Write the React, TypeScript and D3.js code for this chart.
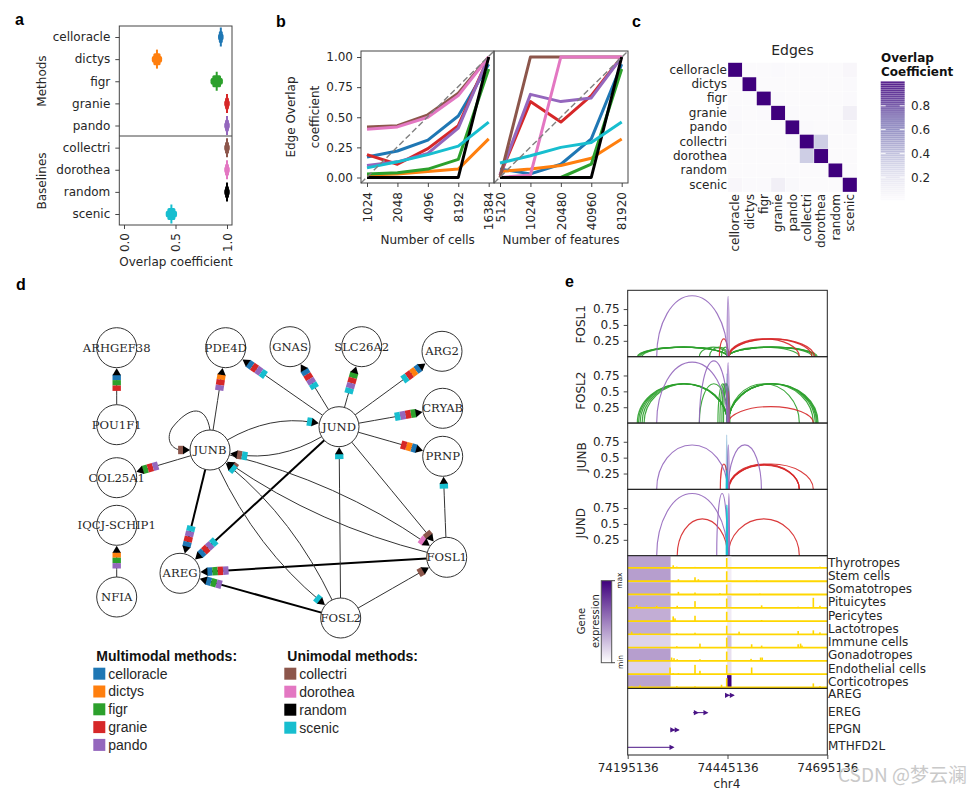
import { useEffect, useRef } from "react";
import * as d3 from "d3";

const SANS = "DejaVu Sans";
const TEXT = "#262626";

// Méthodes
const methods = ["celloracle", "dictys", "figr", "granie", "pando", "collectri", "dorothea", "random", "scenic"];
const methodColors = ["#1f77b4", "#ff7f0e", "#2ca02c", "#d62728", "#9467bd", "#8c564b", "#e377c2", "#000000", "#17becf"];
const colorOf = d3.scaleOrdinal<string, string>().domain(methods).range(methodColors);

// a : coefficient de recouvrement
const overlapValues = [0.94, 0.32, 0.9, 1, 1, 1, 1, 1, 0.46];
const overlapSpread = [0.027, 0.05, 0.06, 0.027, 0.027, 0.027, 0.027, 0.027, 0.055];

// b : robustesse
const cellCounts = [1024, 2048, 4096, 8192, 16384];
const featureCounts = [5120, 10240, 20480, 40960, 81920];
const yTicksB = [0, 0.25, 0.5, 0.75, 1];
const cellSeries: Record<string, number[]> = {
  celloracle: [0.17, 0.22, 0.31, 0.51, 0.94],
  dictys: [0.02, 0.03, 0.05, 0.07, 0.32],
  figr: [0.03, 0.04, 0.07, 0.15, 0.9],
  granie: [0.19, 0.11, 0.24, 0.43, 1],
  pando: [0.1, 0.13, 0.2, 0.41, 1],
  collectri: [0.42, 0.43, 0.52, 0.7, 1],
  dorothea: [0.4, 0.42, 0.5, 0.68, 1],
  random: [0, 0, 0, 0, 1],
  scenic: [0.08, 0.13, 0.19, 0.26, 0.46],
};
const featureSeries: Record<string, number[]> = {
  celloracle: [0.07, 0.03, 0.11, 0.32, 0.94],
  dictys: [0.05, 0.07, 0.1, 0.16, 0.32],
  figr: [0, 0, 0, 0.11, 0.9],
  granie: [0.02, 0.63, 0.46, 0.68, 1],
  pando: [0.02, 0.69, 0.63, 0.66, 1],
  collectri: [0, 1, 1, 1, 1],
  dorothea: [0, 0.02, 1, 1, 1],
  random: [0, 0, 0, 0, 1],
  scenic: [0.12, 0.18, 0.25, 0.29, 0.46],
};

// c : matrice de recouvrement
const edgeOverlap = [
  [1, 0.01, 0.01, 0.02, 0.01, 0.01, 0.01, 0.01, 0.04],
  [0.01, 1, 0.01, 0.01, 0.01, 0.01, 0.01, 0.01, 0.02],
  [0.01, 0.01, 1, 0.02, 0.01, 0.01, 0.01, 0.01, 0.02],
  [0.02, 0.01, 0.02, 1, 0.02, 0.01, 0.01, 0.01, 0.1],
  [0.03, 0.01, 0.01, 0.01, 1, 0.02, 0.01, 0.01, 0.03],
  [0.01, 0.01, 0.01, 0.01, 0.02, 1, 0.3, 0.01, 0.01],
  [0.01, 0.01, 0.01, 0.01, 0.01, 0.3, 1, 0.01, 0.01],
  [0.01, 0.01, 0.01, 0.01, 0.01, 0.01, 0.01, 1, 0.01],
  [0.04, 0.02, 0.02, 0.1, 0.03, 0.01, 0.01, 0.01, 1],
];
const colorbarTicks = [0.2, 0.4, 0.6, 0.8];

// d : réseau
const nodeLayout: Record<string, [number, number]> = {
  "ARHGEF38": [116.7, 347.7],
  "POU1F1": [116.7, 424.7],
  "COL25A1": [116.7, 477.7],
  "IQCJ-SCHIP1": [116.7, 525.3],
  "NFIA": [116.7, 597],
  "PDE4D": [225.7, 347.7],
  "GNAS": [290, 346.7],
  "SLC26A2": [361.7, 346.7],
  "ARG2": [442, 351.3],
  "CRYAB": [442.7, 408.3],
  "PRNP": [442.7, 456.3],
  "JUND": [339, 426.7],
  "JUNB": [210, 450],
  "AREG": [180, 573.3],
  "FOSL1": [446.7, 557.3],
  "FOSL2": [340.7, 618],
};
type NetEdge = { from: string; to: string; by: string[]; thick?: boolean; curve?: number };
const netEdges: NetEdge[] = [
  { from: "POU1F1", to: "ARHGEF38", by: ["celloracle", "figr", "granie"] },
  { from: "NFIA", to: "IQCJ-SCHIP1", by: ["dictys", "figr", "pando"] },
  { from: "JUNB", to: "PDE4D", by: ["dictys", "granie", "pando"] },
  { from: "JUND", to: "PDE4D", by: ["celloracle", "granie", "pando", "scenic"] },
  { from: "JUND", to: "GNAS", by: ["celloracle", "granie", "pando", "scenic"] },
  { from: "JUND", to: "SLC26A2", by: ["figr", "granie", "pando", "scenic"] },
  { from: "JUND", to: "ARG2", by: ["celloracle", "dictys", "granie", "scenic"] },
  { from: "JUND", to: "CRYAB", by: ["figr", "granie", "pando", "scenic"] },
  { from: "JUND", to: "PRNP", by: ["celloracle", "dictys", "granie"] },
  { from: "JUNB", to: "COL25A1", by: ["figr", "granie", "pando"] },
  { from: "JUNB", to: "AREG", by: ["celloracle", "granie", "pando", "scenic"], thick: true },
  { from: "JUND", to: "AREG", by: ["celloracle", "granie", "pando", "scenic"], thick: true },
  { from: "FOSL1", to: "AREG", by: ["celloracle", "figr", "granie", "pando"], thick: true },
  { from: "FOSL2", to: "AREG", by: ["celloracle", "figr", "pando"], thick: true },
  { from: "JUNB", to: "JUND", by: ["scenic"], curve: 0.18 },
  { from: "JUND", to: "JUNB", by: ["collectri", "scenic"], curve: 0.18 },
  { from: "JUNB", to: "FOSL1", by: ["dorothea"], curve: 0.09 },
  { from: "FOSL1", to: "JUNB", by: ["collectri"], curve: 0.09 },
  { from: "JUNB", to: "FOSL2", by: ["scenic"], curve: -0.11 },
  { from: "FOSL2", to: "JUNB", by: ["scenic"], curve: -0.11 },
  { from: "JUND", to: "FOSL1", by: ["collectri"] },
  { from: "FOSL2", to: "JUND", by: ["scenic"] },
  { from: "FOSL2", to: "FOSL1", by: ["collectri"] },
  { from: "FOSL1", to: "PRNP", by: ["scenic"] },
];
const multimodal = ["celloracle", "dictys", "figr", "granie", "pando"];
const unimodal = ["collectri", "dorothea", "random", "scenic"];

// e : arcs [début kb, fin kb, hauteur, méthode, opacité]
type Arc = [number, number, number, string, number?];
const arcTracks: { name: string; arcs: Arc[] }[] = [
  {
    name: "FOSL1",
    arcs: [
      [24, 250, 0.15, "figr"], [26, 250, 0.15, "figr"], [29, 250, 0.15, "figr"], [32, 250, 0.15, "figr"], [36, 250, 0.15, "figr"],
      [179.5, 250, 0.15, "figr"], [205, 252, 0.15, "figr"], [235, 254, 0.15, "figr"],
      [252, 430, 0.15, "figr"], [252, 462, 0.15, "figr"], [252, 468, 0.15, "figr"], [252, 472, 0.15, "figr"], [252, 475, 0.15, "figr"],
      [229.5, 252, 0.28, "granie"], [252, 430, 0.28, "granie"], [252, 462, 0.28, "granie"], [254, 468, 0.28, "granie"],
      [72.6, 250, 0.96, "pando"], [249, 254, 0.96, "pando"],
    ],
  },
  {
    name: "FOSL2",
    arcs: [
      [24, 250, 0.62, "figr"], [27, 250, 0.62, "figr"], [31, 250, 0.62, "figr"], [36, 250, 0.62, "figr"], [41, 250, 0.62, "figr"],
      [179.5, 252, 0.62, "figr"], [226, 250, 0.62, "figr"], [231, 252, 0.62, "figr"], [236, 254, 0.62, "figr"], [240, 256, 0.62, "figr"],
      [252, 430, 0.62, "figr"], [252, 465, 0.62, "figr"], [252, 470, 0.62, "figr"], [252, 473, 0.62, "figr"], [252, 475, 0.62, "figr"], [252, 477, 0.62, "figr"],
      [250, 254, 0.5, "granie"], [252, 465, 0.26, "granie"],
      [247.5, 249.5, 0.78, "celloracle", 0.4],
      [72.6, 250, 0.96, "pando"], [179.5, 252, 0.98, "pando"], [249, 254, 0.96, "pando"],
    ],
  },
  {
    name: "JUNB",
    arcs: [
      [232, 250, 0.4, "granie"], [252, 430, 0.4, "granie"], [252, 465, 0.4, "granie"], [253, 430, 0.39, "granie"], [254, 430, 0.38, "granie"],
      [72.6, 250, 0.7, "pando"], [250, 254, 0.7, "pando"], [252, 335, 0.7, "pando"],
      [247, 249, 0.86, "celloracle", 0.4],
      [247, 249, 0.3, "scenic"], [247.5, 249.5, 0.22, "scenic"],
    ],
  },
  {
    name: "JUND",
    arcs: [
      [124, 250, 0.58, "granie"], [252, 430, 0.58, "granie"],
      [72.6, 250, 0.98, "pando"], [223, 250, 0.98, "pando"], [252, 255, 0.98, "pando"],
      [247, 250, 0.8, "scenic"], [247.4, 249.6, 0.8, "scenic"],
    ],
  },
];
const arcTicks = [0.25, 0.5, 0.75];

// e : expression et accessibilité
const cellTypes = ["Thyrotropes", "Stem cells", "Somatotropes", "Pituicytes", "Pericytes", "Lactotropes", "Immune cells", "Gonadotropes", "Endothelial cells", "Corticotropes"];
const upstreamExpression = [0.36, 0.38, 0.35, 0.33, 0.32, 0.32, 0.17, 0.38, 0.17, 0.36];
const tssExpression = [0.06, 0.07, 0.08, 0.16, 0.08, 0.08, 0.24, 0.12, 0.12, 1];
const accessPeaks: [number, number][][] = [
  [[114, 0.2], [123, 0.1], [168.6, 0.08], [248, 0.75], [331, 0.07], [481.6, 0.1], [10, 0.07], [40, 0.06], [80, 0.06]],
  [[127, 0.15], [168.6, 0.3], [177, 0.15], [248, 0.75], [114, 0.05], [323, 0.07]],
  [[127, 0.2], [168.6, 0.15], [231, 0.1], [248, 0.75], [331, 0.07]],
  [[22.5, 0.2], [31, 0.08], [72.6, 0.15], [124, 0.15], [168.6, 0.5], [248, 0.7], [335.5, 0.18], [427, 0.08], [465, 0.75], [481.6, 0.15]],
  [[114, 0.35], [118.5, 0.2], [168.6, 0.4], [248, 0.7], [335.5, 0.08]],
  [[10, 0.2], [31, 0.08], [123, 0.08], [168.6, 0.12], [248, 0.65], [279, 0.2], [427, 0.25], [465, 0.3], [481.6, 0.15]],
  [[123, 0.1], [181, 0.3], [248, 0.75], [310.5, 0.25], [335.5, 0.15], [427, 0.25], [433, 0.3], [436.5, 0.15]],
  [[110, 0.25], [116, 0.2], [124, 0.12], [181, 0.12], [248, 0.7], [309, 0.15], [333, 0.25], [337, 0.25]],
  [[106, 0.5], [114, 0.08], [127, 0.08], [168.6, 0.7], [181, 0.25], [248, 0.7], [310.5, 0.5]],
  [[10, 0.08], [31, 0.15], [123, 0.1], [168.6, 0.08], [235, 0.2], [248, 0.7], [465, 0.3], [481.6, 0.1]],
];
const upstreamEndKb = 107.5;
const tssStartKb = 249;
const tssEndKb = 260;

// e : gènes [début kb, fin kb, têtes de flèche kb]
const geneNames = ["AREG", "EREG", "EPGN", "MTHFD2L"];
const geneStart = [243.7, 164, 107, 0];
const geneEnd = [266, 199.5, 127.7, 114];
const geneHeads = [[250, 262], [172, 196], [113, 124], [111]];
const regionStart = 74195136;
const regionTicks = [74195136, 74445136, 74695136];

export default function App() {
  const svgRef = useRef<SVGSVGElement>(null);

  useEffect(() => {
    if (!svgRef.current) return;
    const svg = d3.select(svgRef.current);
    svg.selectAll("*").remove();

    // Texte générique
    const label = (x: number, y: number, s: string, size = 12, opts: any = {}) => {
      const t = svg
        .append("text")
        .attr("x", x)
        .attr("y", y)
        .attr("font-family", opts.family || SANS)
        .attr("font-size", size)
        .attr("font-weight", opts.weight || "normal")
        .attr("fill", opts.fill || TEXT)
        .attr("text-anchor", opts.anchor || "start")
        .text(s);
      if (opts.rotate) t.attr("transform", `rotate(-90,${x},${y})`).attr("text-anchor", "middle");
      return t;
    };
    const styleAxis = (g: any, size = 12) => {
      g.select(".domain").remove();
      g.selectAll("line").attr("stroke", "#333").attr("stroke-width", 0.9);
      g.selectAll("text").attr("font-family", SANS).attr("font-size", size).attr("fill", TEXT);
    };
    const rotateTicks = (g: any, offset: number) => {
      g.selectAll("text")
        .attr("transform", "rotate(-90)")
        .attr("text-anchor", "end")
        .attr("x", -offset)
        .attr("y", 0)
        .attr("dy", "0.35em");
    };
    const frame = (x0: number, y0: number, x1: number, y1: number, stroke = "#444") => {
      svg.append("rect").attr("x", x0).attr("y", y0).attr("width", x1 - x0).attr("height", y1 - y0)
        .attr("fill", "none").attr("stroke", stroke).attr("stroke-width", 1);
    };

    // Lettres de panneaux
    const panelLetters: [string, number, number][] = [["a", 15, 25], ["b", 276, 27], ["c", 632, 27], ["d", 16, 290], ["e", 565, 287]];
    panelLetters.forEach(([s, x, y]) => label(x, y, s, 16, { family: "Liberation Sans", weight: "bold", fill: "#000" }));

    // --- Panneau a ---
    const xA = d3.scaleLinear().domain([0, 1]).range([124, 227]);
    const yA = d3.scalePoint<string>().domain(methods).range([37, 214]);
    const gA = svg.append("g");
    methods.forEach((m, i) => {
      const c = colorOf(m);
      const cx = xA(overlapValues[i]);
      const cy = yA(m)!;
      const w = xA(overlapSpread[i]) - xA(0);
      gA.append("line").attr("x1", cx).attr("x2", cx).attr("y1", cy - 9.5).attr("y2", cy + 9.5).attr("stroke", c).attr("stroke-width", 2);
      gA.append("rect").attr("x", cx - w * 0.7).attr("y", cy - 6).attr("width", w * 1.4).attr("height", 12).attr("rx", 1.5).attr("fill", c);
      gA.append("rect").attr("x", cx - w).attr("y", cy - 3.5).attr("width", w * 2).attr("height", 7).attr("rx", 2.5).attr("fill", c);
    });
    frame(119.3, 26, 232, 225);
    svg.append("line").attr("x1", 119.3).attr("x2", 232).attr("y1", 136).attr("y2", 136).attr("stroke", "#444").attr("stroke-width", 1);
    svg.append("g").attr("transform", "translate(119.3,0)")
      .call(d3.axisLeft(yA).tickSize(4).tickPadding(5) as any).call(styleAxis);
    const axA = svg.append("g").attr("transform", "translate(0,225)")
      .call(d3.axisBottom(xA).tickValues([0, 0.5, 1]).tickFormat(d3.format(".1f")).tickSize(4) as any);
    styleAxis(axA);
    rotateTicks(axA, 8);
    label(176, 266, "Overlap coefficient", 12, { anchor: "middle" });
    label(46, 81, "Methods", 12, { rotate: true });
    label(46, 181, "Baselines", 12, { rotate: true });

    // --- Panneau b ---
    const yB = d3.scaleLinear().domain([0, 1]).range([177.5, 57]);
    const drawRobust = (x0: number, x1: number, a: number, b: number, ticks: number[], series: Record<string, number[]>) => {
      const x = d3.scaleLog().base(2).domain([ticks[0], ticks[4]]).range([a, b]);
      const line = d3.line<number>().x((_, i) => x(ticks[i])).y((d) => yB(d));
      methods.forEach((m) => {
        svg.append("path").attr("d", line(series[m])!).attr("fill", "none").attr("stroke", colorOf(m))
          .attr("stroke-width", 3).attr("stroke-linejoin", "round");
      });
      svg.append("line").attr("x1", x0).attr("y1", 183).attr("x2", x1).attr("y2", 51)
        .attr("stroke", "#808080").attr("stroke-width", 1.4).attr("stroke-dasharray", "6,3");
      frame(x0, 51, x1, 183);
      const ax = svg.append("g").attr("transform", "translate(0,183)")
        .call(d3.axisBottom(x).tickValues(ticks).tickFormat(d3.format("d") as any).tickSize(4) as any);
      styleAxis(ax);
      rotateTicks(ax, 9);
    };
    drawRobust(361, 494, 367, 488.7, cellCounts, cellSeries);
    drawRobust(494, 628, 500, 621.7, featureCounts, featureSeries);
    svg.append("g").attr("transform", "translate(361,0)")
      .call(d3.axisLeft(yB).tickValues(yTicksB).tickFormat(d3.format(".2f")).tickSize(4).tickPadding(4) as any).call(styleAxis);
    label(295, 117, "Edge Overlap", 12, { rotate: true });
    label(319, 117, "coefficient", 12, { rotate: true });
    label(427.7, 244, "Number of cells", 12, { anchor: "middle" });
    label(561, 244, "Number of features", 12, { anchor: "middle" });

    // --- Panneau c ---
    const xC = d3.scaleBand<string>().domain(methods).range([728, 857]);
    const yC = d3.scaleBand<string>().domain(methods).range([62.7, 192]);
    const purples = d3.scaleSequential(d3.interpolatePurples).domain([0, 1]);
    edgeOverlap.forEach((row, i) => {
      row.forEach((v, j) => {
        svg.append("rect").attr("x", xC(methods[j])!).attr("y", yC(methods[i])!)
          .attr("width", xC.bandwidth()).attr("height", yC.bandwidth())
          .attr("fill", purples(v)).attr("stroke", "#fff").attr("stroke-width", 0.3);
      });
    });
    label(792.5, 55, "Edges", 14, { anchor: "middle" });
    const axCy = svg.append("g").attr("transform", "translate(728,0)").call(d3.axisLeft(yC).tickSize(0).tickPadding(1) as any);
    styleAxis(axCy);
    const axCx = svg.append("g").attr("transform", "translate(0,192)").call(d3.axisBottom(xC).tickSize(0) as any);
    styleAxis(axCx);
    rotateTicks(axCx, 2);

    const cbY = d3.scaleLinear().domain([0, 1]).range([201, 82]);
    d3.range(0.005, 1, 1 / 60).forEach((v) => {
      svg.append("rect").attr("x", 880.7).attr("width", 24).attr("y", cbY(v + 1 / 60)).attr("height", 1.75)
        .attr("fill", purples(v)).attr("opacity", 0.88);
    });
    colorbarTicks.forEach((t) => {
      const y = cbY(t);
      [[880.7, 885.7], [899.7, 904.7]].forEach(([a, b]) => {
        svg.append("line").attr("x1", a).attr("x2", b).attr("y1", y).attr("y2", y).attr("stroke", "#fff").attr("stroke-width", 0.9);
      });
      label(911, y + 4.5, String(t), 12);
    });
    label(881, 62, "Overlap", 12, { weight: "bold", fill: "#111" });
    label(881, 75.5, "Coefficient", 12, { weight: "bold", fill: "#111" });

    // --- Panneau d ---
    const R = 20;
    const gE = svg.append("g");
    const stripesAt = (tipX: number, tipY: number, ux: number, uy: number, by: string[]) => {
      const px = -uy;
      const py = ux;
      const quad = (s0: number, s1: number, hw: number) =>
        `M${tipX + ux * s0 + px * hw},${tipY + uy * s0 + py * hw}L${tipX + ux * s1 + px * hw},${tipY + uy * s1 + py * hw}L${tipX + ux * s1 - px * hw},${tipY + uy * s1 - py * hw}L${tipX + ux * s0 - px * hw},${tipY + uy * s0 - py * hw}Z`;
      by.forEach((m, i) => {
        gE.append("path").attr("d", quad(6.5 + i * 5.4, 6.5 + (i + 1) * 5.4, 4.2)).attr("fill", colorOf(m));
      });
      gE.append("path")
        .attr("d", `M${tipX},${tipY}L${tipX + ux * 7 + px * 4.2},${tipY + uy * 7 + py * 4.2}L${tipX + ux * 7 - px * 4.2},${tipY + uy * 7 - py * 4.2}Z`)
        .attr("fill", "#000");
    };
    const gLines = gE.append("g");
    netEdges.forEach((e) => {
      const [x0, y0] = nodeLayout[e.from];
      const [x1, y1] = nodeLayout[e.to];
      const d = Math.hypot(x1 - x0, y1 - y0);
      const k = e.curve || 0;
      const cx = (x0 + x1) / 2 + ((y1 - y0) / d) * k * d;
      const cy = (y0 + y1) / 2 - ((x1 - x0) / d) * k * d;
      const d0 = Math.hypot(cx - x0, cy - y0);
      const d1 = Math.hypot(cx - x1, cy - y1);
      const sx = x0 + ((cx - x0) / d0) * R;
      const sy = y0 + ((cy - y0) / d0) * R;
      const ux = (cx - x1) / d1;
      const uy = (cy - y1) / d1;
      const tx = x1 + ux * (R + 0.5);
      const ty = y1 + uy * (R + 0.5);
      const path = d3.path();
      path.moveTo(sx, sy);
      path.quadraticCurveTo(cx, cy, tx + ux * 6, ty + uy * 6);
      gLines.append("path").attr("d", path.toString()).attr("fill", "none")
        .attr("stroke", e.thick ? "#000" : "#333").attr("stroke-width", e.thick ? 2 : 1);
      stripesAt(tx, ty, ux, uy, e.by);
    });
    // Boucle de JUNB
    const loop = d3.path();
    const [jx, jy] = nodeLayout["JUNB"];
    loop.moveTo(jx, jy - 20);
    loop.bezierCurveTo(jx - 4, jy - 45, jx - 20, jy - 45, jx - 38, jy - 22);
    loop.bezierCurveTo(jx - 45, jy - 10, jx - 38, jy, jx - 28, jy);
    gLines.append("path").attr("d", loop.toString()).attr("fill", "none").attr("stroke", "#333").attr("stroke-width", 1);
    stripesAt(jx - 20, jy, -1, 0, ["collectri"]);

    Object.entries(nodeLayout).forEach(([name, [x, y]]) => {
      svg.append("circle").attr("cx", x).attr("cy", y).attr("r", R).attr("fill", "#fff").attr("stroke", "#333").attr("stroke-width", 1);
    });
    Object.entries(nodeLayout).forEach(([name, [x, y]]) => {
      label(x, y + 4, name, 11.6, { family: "DejaVu Serif", anchor: "middle" });
    });

    // Légende
    const legendColumn = (title: string, items: string[], x: number, step: number) => {
      label(x + 3, 661, title, 14, { family: "Liberation Sans", weight: "bold", fill: "#111" });
      items.forEach((m, i) => {
        svg.append("rect").attr("x", x).attr("y", 667.7 + i * step).attr("width", 12).attr("height", 12).attr("fill", colorOf(m));
        label(x + 15, 678.5 + i * step, m, 14, { family: "Liberation Sans" });
      });
    };
    legendColumn("Multimodal methods:", multimodal, 93.3, 17.8);
    legendColumn("Unimodal methods:", unimodal, 284.3, 18);

    // --- Panneau e ---
    const xE = d3.scaleLinear().domain([regionStart, regionStart + 500000]).range([627.7, 827.3]);
    const kb = (v: number) => xE(regionStart + v * 1000);
    const trackTop = [290.3, 356.7, 423, 489.3];
    const defs = svg.append("defs");
    arcTracks.forEach((track, t) => {
      const top = trackTop[t];
      const bottom = top + 66.4;
      const y = d3.scaleLinear().domain([0, 1]).range([bottom, bottom - 63.5]);
      defs.append("clipPath").attr("id", `track-${t}`).append("rect")
        .attr("x", 627.7).attr("y", top).attr("width", 199.6).attr("height", 66.4);
      const g = svg.append("g").attr("clip-path", `url(#track-${t})`);
      track.arcs.forEach(([a, b, h, m, op]) => {
        const rx = (kb(b) - kb(a)) / 2;
        const ry = y(0) - y(h);
        g.append("path").attr("d", `M${kb(a)},${bottom}A${rx},${ry} 0 0 1 ${kb(b)},${bottom}`)
          .attr("fill", "none").attr("stroke", colorOf(m)).attr("stroke-width", 1.15).attr("opacity", op ?? 0.9);
      });
      frame(627.7, top, 827.3, bottom, "#222");
      svg.append("g").attr("transform", "translate(627.7,0)")
        .call(d3.axisLeft(y).tickValues(arcTicks).tickFormat((d: any) => String(d)).tickSize(4).tickPadding(4) as any)
        .call(styleAxis);
      label(585.5, top + 34, track.name, 12, { rotate: true });
    });

    // Pistes d'accessibilité
    const heatTop = 555.7;
    const rowH = 13.27;
    const exprColor = d3.interpolateRgb("#ffffff", "#3f007d");
    cellTypes.forEach((name, i) => {
      const top = heatTop + i * rowH;
      const base = top + rowH - 1;
      svg.append("rect").attr("x", kb(0)).attr("y", top).attr("width", kb(upstreamEndKb) - kb(0)).attr("height", rowH)
        .attr("fill", exprColor(upstreamExpression[i]));
      svg.append("rect").attr("x", kb(tssStartKb)).attr("y", top).attr("width", kb(tssEndKb) - kb(tssStartKb)).attr("height", rowH)
        .attr("fill", exprColor(tssExpression[i]));
      accessPeaks[i].forEach(([pos, h]) => {
        svg.append("rect").attr("x", kb(pos) - 0.8).attr("y", base - h * rowH).attr("width", 1.6).attr("height", h * rowH)
          .attr("fill", "#ffd700");
      });
      svg.append("line").attr("x1", kb(0)).attr("x2", kb(500)).attr("y1", base).attr("y2", base)
        .attr("stroke", "#ffd700").attr("stroke-width", 1.8);
      label(828, top + 10.8, name, 12);
    });
    frame(627.7, heatTop, 827.3, 688.4, "#222");

    // Gènes
    const geneY = d3.scalePoint<string>().domain(geneNames).range([695.3, 747.3]);
    geneNames.forEach((g, i) => {
      const y = geneY(g)!;
      svg.append("line").attr("x1", kb(geneStart[i])).attr("x2", kb(geneEnd[i])).attr("y1", y).attr("y2", y)
        .attr("stroke", "#4a1486").attr("stroke-width", 1);
      geneHeads[i].forEach((h) => {
        svg.append("path").attr("d", `M${kb(h) - 2.5},${y - 2.6}L${kb(h) + 2.5},${y}L${kb(h) - 2.5},${y + 2.6}Z`).attr("fill", "#4a1486");
      });
      label(828, y + 3, g, 12);
    });
    frame(627.7, 688.4, 827.3, 755, "#222");
    const axE = svg.append("g").attr("transform", "translate(0,755)")
      .call(d3.axisBottom(xE).tickValues(regionTicks).tickFormat(d3.format("d")).tickSize(4).tickPadding(4) as any);
    styleAxis(axE);
    label(727, 788, "chr4", 12, { anchor: "middle" });

    // Échelle d'expression
    const gradient = defs.append("linearGradient").attr("id", "expr").attr("x1", 0).attr("x2", 0).attr("y1", 1).attr("y2", 0);
    gradient.append("stop").attr("offset", 0).attr("stop-color", "#ffffff");
    gradient.append("stop").attr("offset", 1).attr("stop-color", "#3f007d");
    svg.append("rect").attr("x", 601.3).attr("y", 580.7).attr("width", 10.4).attr("height", 82)
      .attr("fill", "url(#expr)").attr("stroke", "#555").attr("stroke-width", 1);
    [580.7, 662.7].forEach((y) => {
      svg.append("line").attr("x1", 611.7).attr("x2", 615).attr("y1", y).attr("y2", y).attr("stroke", "#333").attr("stroke-width", 0.9);
    });
    label(622.5, 580.7, "max", 7.5, { rotate: true });
    label(622.5, 662, "min", 7.5, { rotate: true });
    label(584.5, 621, "Gene", 10, { rotate: true });
    label(599, 621, "expression", 10, { rotate: true });

    // Filigrane
    label(838, 782, "CSDN @梦云澜", 19, { family: "Noto Sans CJK SC", fill: "#c9c9c9" });
  }, []);

  return (
    <svg
      ref={svgRef}
      width={969}
      height={793}
      style={{ position: "absolute", left: 0, top: 0, background: "#fff" }}
    />
  );
}
